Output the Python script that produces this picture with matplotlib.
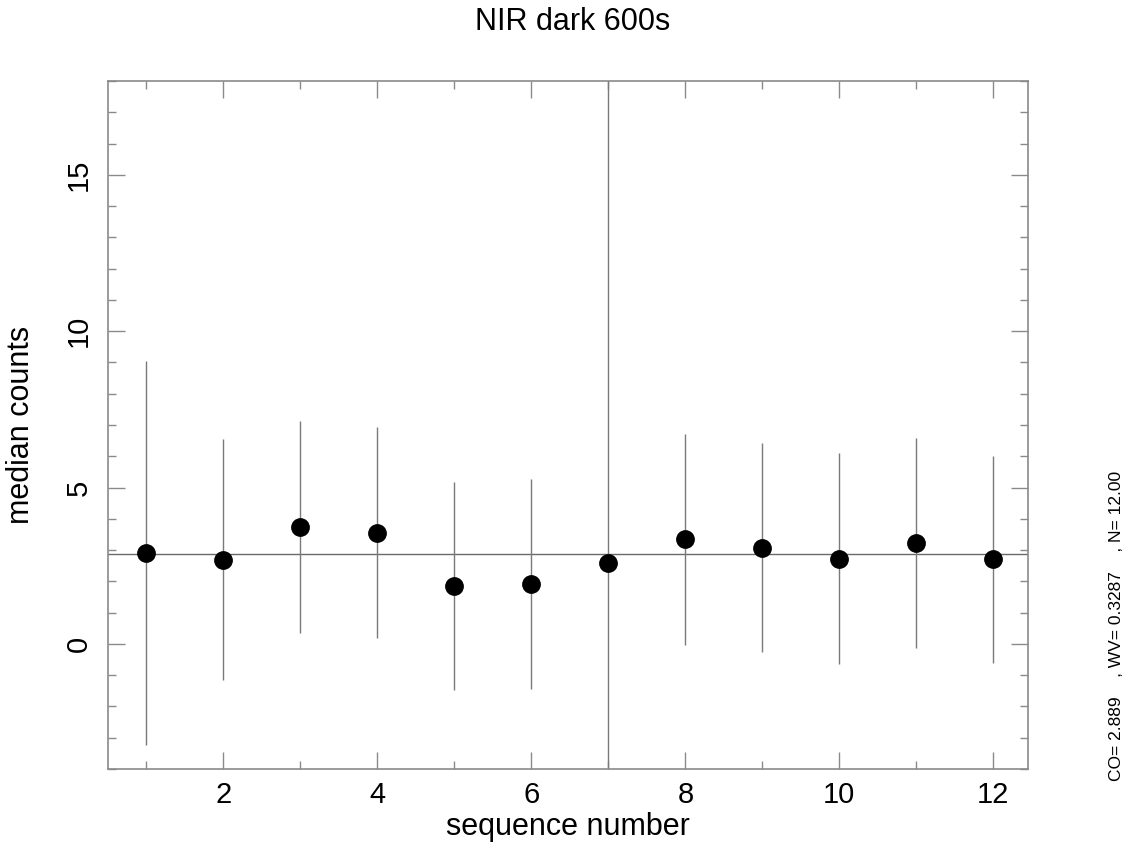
import matplotlib
matplotlib.use("Agg")
import matplotlib.pyplot as plt
from matplotlib.ticker import MultipleLocator

plt.rcParams["font.family"] = ["Liberation Sans", "DejaVu Sans"]

# median counts per sequence
seq = [1, 2, 3, 4, 5, 6, 7, 8, 9, 10, 11, 12]
median = [2.90, 2.69, 3.75, 3.55, 1.85, 1.91, 2.58, 3.35, 3.08, 2.73, 3.22, 2.71]
err = [6.13, 3.86, 3.39, 3.37, 3.34, 3.36, 30.0, 3.37, 3.35, 3.38, 3.36, 3.31]

co = 2.889
wv = 0.3287
n_pts = 12.00

GREY = "#8a8a8a"

fig = plt.figure(figsize=(11.45, 8.47), dpi=100)
ax = fig.add_axes([0.0943, 0.0921, 0.8035, 0.8123])

ax.errorbar(seq, median, yerr=err, fmt="none", ecolor="#7a7a7a",
            elinewidth=1.0, capsize=0, zorder=2)
ax.plot(seq, median, "o", color="black", markersize=12.5, zorder=3)
ax.axhline(co, color="#6a6a6a", linewidth=1.0, zorder=1)

ax.set_xlim(0.5, 12.45)
ax.set_ylim(-4, 18)
ax.xaxis.set_major_locator(MultipleLocator(2))
ax.xaxis.set_minor_locator(MultipleLocator(1))
ax.yaxis.set_major_locator(MultipleLocator(5))
ax.yaxis.set_minor_locator(MultipleLocator(1))

ax.tick_params(which="both", direction="in", top=True, right=True,
               color=GREY, width=1.0, labelsize=21)
ax.tick_params(which="major", length=12)
ax.tick_params(which="minor", length=6)
ax.tick_params(axis="x", pad=9)
ax.tick_params(axis="y", pad=11)
for lab in ax.get_yticklabels():
    lab.set_rotation(90)
    lab.set_va("center")
for sp in ax.spines.values():
    sp.set_color(GREY)
    sp.set_linewidth(1.2)

ax.set_xlabel("sequence number", fontsize=22)
ax.set_ylabel("median counts", fontsize=22)
ax.xaxis.set_label_coords(0.5, -0.062)
ax.yaxis.set_label_coords(-0.078, 0.5)
fig.suptitle("NIR dark 600s", fontsize=22, y=0.992)

fig.text(0.975, 0.078,
         f"CO= {co:.3f}    , WV= {wv:.4f}    , N= {n_pts:.2f}",
         rotation=90, fontsize=12.5, ha="center", va="bottom")

fig.savefig("out.png", dpi=100)
